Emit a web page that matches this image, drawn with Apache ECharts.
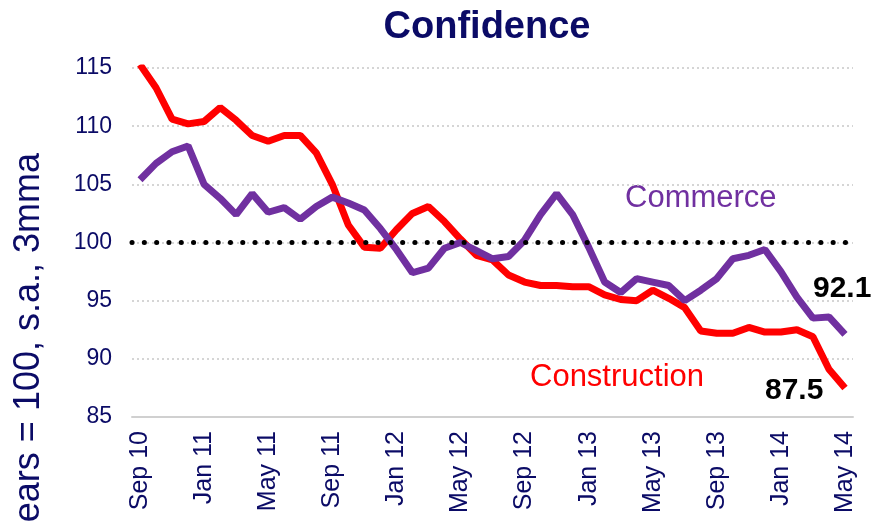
<!DOCTYPE html>
<html>
<head>
<meta charset="utf-8">
<script src="https://cdn.jsdelivr.net/npm/echarts@6/dist/echarts.min.js"></script>
<style>
  html, body { margin: 0; padding: 0; background: #fff; }
  #main { width: 873px; height: 522px; }
</style>
</head>
<body>
<div id="main"></div>
<script>
// months Sep 10 .. May 14
var monthNames = ['Jan', 'Feb', 'Mar', 'Apr', 'May', 'Jun', 'Jul', 'Aug', 'Sep', 'Oct', 'Nov', 'Dec'];
var months = [];
for (var k = 0; k < 45; k++) {
    var m = (8 + k) % 12;
    var yr = 10 + Math.floor((8 + k) / 12);
    months.push(monthNames[m] + ' ' + yr);
}

var commerce = [105.4, 106.8, 107.8, 108.3, 105.0, 103.8, 102.4, 104.2, 102.6, 103.0,
    102.0, 103.1, 103.9, 103.4, 102.8, 101.2, 99.4, 97.4, 97.8, 99.5,
    100.0, 99.3, 98.6, 98.8, 100.2, 102.4, 104.2, 102.4, 99.6, 96.6,
    95.7, 96.9, 96.6, 96.3, 95.0, 95.9, 96.9, 98.6, 98.9, 99.4,
    97.5, 95.3, 93.5, 93.6, 92.1];

var construction = [115.3, 113.3, 110.6, 110.2, 110.4, 111.6, 110.5, 109.2, 108.7, 109.2,
    109.2, 107.7, 105.0, 101.5, 99.6, 99.5, 101.1, 102.5, 103.1, 101.8,
    100.3, 98.9, 98.5, 97.2, 96.6, 96.3, 96.3, 96.2, 96.2, 95.5,
    95.1, 95.0, 95.9, 95.2, 94.4, 92.4, 92.2, 92.2, 92.7, 92.3,
    92.3, 92.5, 91.9, 89.1, 87.5];

var navy = '#0b0b66';

var myChart = echarts.init(document.getElementById('main'));

var option = {
    backgroundColor: '#fff',
    animation: false,
    title: {
        text: 'Confidence',
        left: 482,
        top: 4,
        textAlign: 'center',
        textStyle: {
            fontFamily: 'Arial',
            fontSize: 38,
            fontWeight: 'bold',
            color: navy
        }
    },
    grid: {
        left: 132,
        right: 20,
        top: 68,
        bottom: 105
    },
    xAxis: {
        type: 'category',
        data: months,
        boundaryGap: true,
        axisLine: { show: true, lineStyle: { color: '#d0d0d0', width: 2 } },
        axisTick: { show: false },
        axisLabel: {
            interval: 3,
            rotate: 90,
            margin: 14,
            fontFamily: 'Arial',
            fontSize: 25,
            color: navy
        },
        splitLine: { show: false }
    },
    yAxis: {
        type: 'value',
        min: 85,
        max: 115,
        interval: 5,
        axisLine: { show: false },
        axisTick: { show: false },
        axisLabel: {
            margin: 20,
            fontFamily: 'Arial',
            fontSize: 23,
            color: navy
        },
        splitLine: {
            lineStyle: { color: '#c8c8c8', width: 1.5, type: [2, 3] }
        }
    },
    graphic: [
        {
            type: 'text',
            x: 29,
            y: 153,
            rotation: Math.PI / 2,
            style: {
                text: 'years = 100, s.a., 3mma',
                fontFamily: 'Arial',
                fontSize: 36,
                fill: navy,
                textAlign: 'right',
                textVerticalAlign: 'middle'
            }
        },
        {
            type: 'text',
            x: 625,
            y: 198,
            style: {
                text: 'Commerce',
                fontFamily: 'Arial',
                fontSize: 31,
                fill: '#7030a0',
                textVerticalAlign: 'middle'
            }
        },
        {
            type: 'text',
            x: 530,
            y: 377,
            style: {
                text: 'Construction',
                fontFamily: 'Arial',
                fontSize: 31,
                fill: '#ff0000',
                textVerticalAlign: 'middle'
            }
        }
    ],
    series: [
        {
            name: 'Construction',
            type: 'line',
            data: construction,
            symbol: 'none',
            lineStyle: { color: '#ff0000', width: 7 },
            itemStyle: { color: '#ff0000' },
            z: 3,
            endLabel: {
                show: true,
                formatter: function (p) { return p.value.toFixed(1); },
                distance: 0,
                offset: [-80, 3],
                fontFamily: 'Arial',
                fontSize: 30,
                fontWeight: 'bold',
                color: '#000'
            },
            markLine: {
                silent: true,
                symbol: 'none',
                label: { show: false },
                lineStyle: { color: '#000', width: 5, type: [0.1, 12.2], cap: 'round' },
                data: [{ yAxis: 100 }]
            }
        },
        {
            name: 'Commerce',
            type: 'line',
            data: commerce,
            symbol: 'none',
            lineStyle: { color: '#7030a0', width: 7 },
            itemStyle: { color: '#7030a0' },
            z: 4,
            endLabel: {
                show: true,
                formatter: function (p) { return p.value.toFixed(1); },
                distance: 0,
                offset: [-32, -46],
                fontFamily: 'Arial',
                fontSize: 30,
                fontWeight: 'bold',
                color: '#000'
            }
        }
    ]
};

myChart.setOption(option);
</script>
</body>
</html>
